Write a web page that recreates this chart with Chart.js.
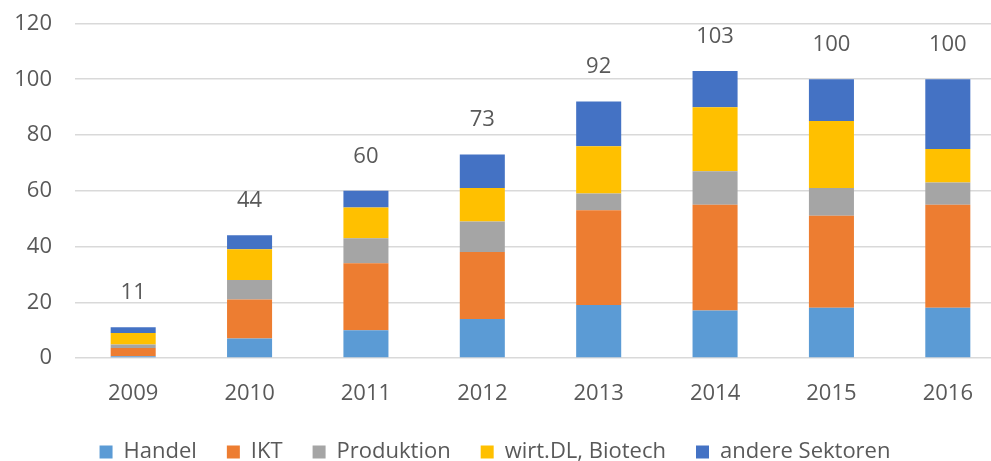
<!DOCTYPE html>
<html>
<head>
<meta charset="utf-8">
<script src="https://cdn.jsdelivr.net/npm/chart.js@4"></script>
<style>
html,body{margin:0;padding:0;overflow:hidden;background:#fff;}
#wrap{position:relative;width:1006px;height:461px;}
</style>
</head>
<body>
<div id="wrap"><canvas id="c"></canvas></div>
<script>
const years = ['2009','2010','2011','2012','2013','2014','2015','2016'];
const handel = [0.6, 7, 10, 14, 19, 17, 18, 18];
const ikt = [3, 14, 24, 24, 34, 38, 33, 37];
const produktion = [1.2, 7, 9, 11, 6, 12, 10, 8];
const wirtDL = [4.2, 11, 11, 12, 17, 23, 24, 12];
const andere = [2, 5, 6, 12, 16, 13, 15, 25];
const totals = [11, 44, 60, 73, 92, 103, 100, 100];
const yTicks = [0, 20, 40, 60, 80, 100, 120];

const TEXT = '#595959';
const FONT = "'Open Sans', sans-serif";

const totalsPlugin = {
  id: 'totals',
  afterDatasetsDraw(chart) {
    const ctx = chart.ctx;
    const x = chart.scales.x, y = chart.scales.y;
    ctx.save();
    ctx.font = "22px " + FONT;
    ctx.fillStyle = TEXT;
    ctx.textAlign = 'center';
    ctx.textBaseline = 'middle';
    totals.forEach((t, i) => {
      ctx.fillText(String(t), x.getPixelForValue(i), y.getPixelForValue(t) - 34.5);
    });
    ctx.restore();
  }
};

const legendShift = {
  id: 'legendShift',
  afterLayout(chart) {
    const l = chart.legend;
    l.right -= 16; l.width -= 16;
  }
};

const ds = (label, data, color) => ({label, data, backgroundColor: color, borderWidth: 0, barPercentage: 0.387, categoryPercentage: 1});

new Chart(document.getElementById('c'), {
  type: 'bar',
  data: {
    labels: years,
    datasets: [
      ds('Handel', handel, '#5b9bd5'),
      ds('IKT', ikt, '#ed7d31'),
      ds('Produktion', produktion, '#a5a5a5'),
      ds('wirt.DL, Biotech', wirtDL, '#ffc000'),
      ds('andere Sektoren', andere, '#4472c4')
    ]
  },
  options: {
    responsive: true,
    maintainAspectRatio: false,
    animation: false,
    layout: {padding: {top: 23.5, left: 0, right: 0, bottom: -12}},
    plugins: {
      legend: {
        position: 'bottom',
        labels: {boxWidth: 13, boxHeight: 13, padding: 30, color: TEXT, font: {family: FONT, size: 22}}
      },
      tooltip: {enabled: false}
    },
    scales: {
      x: {
        stacked: true,
        grid: {display: false, drawTicks: false},
        border: {display: false},
        ticks: {color: TEXT, font: {family: FONT, size: 22}, padding: 23},
        afterFit(s) { s.height = 53; }
      },
      y: {
        stacked: true,
        min: 0, max: 120,
        afterBuildTicks(s) { s.ticks = yTicks.map(v => ({value: v})); },
        grid: {color: '#d9d9d9', lineWidth: 1.5, drawTicks: false},
        border: {display: false},
        ticks: {color: TEXT, font: {family: FONT, size: 22}, padding: 23},
        afterFit(s) { s.width = 75; s.paddingTop = 0; s.paddingBottom = 0; }
      }
    }
  },
  plugins: [totalsPlugin, legendShift]
});
</script>
</body>
</html>
